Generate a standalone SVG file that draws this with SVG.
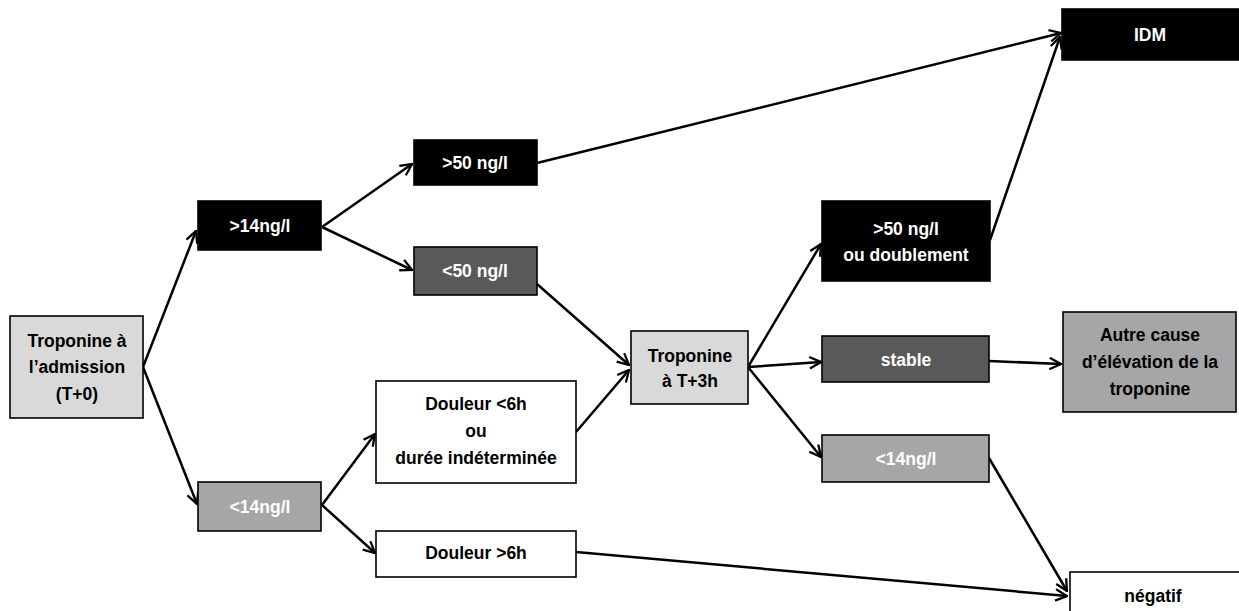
<svg xmlns="http://www.w3.org/2000/svg" width="1239" height="611" viewBox="0 0 1239 611">
  <style>
    .box { stroke: #000; stroke-width: 1.6; }
    .black { fill: #000; }
    .dark { fill: #595959; }
    .mid { fill: #a6a6a6; }
    .light { fill: #d9d9d9; }
    .white { fill: #fff; }
    text { font-family: "Liberation Sans", Arial, sans-serif; font-weight: bold; font-size: 17.5px; text-anchor: middle; }
    .wt { fill: #fff; }
    .bt { fill: #000; }
    .conn line { stroke: #000; stroke-width: 2.5; fill: none; marker-end: url(#arrow); }
  </style>
  <defs>
    <marker id="arrow" viewBox="0 0 12 12" refX="11" refY="6" markerWidth="5.5" markerHeight="5.5" orient="auto" markerUnits="strokeWidth">
      <path d="M1,1 L11,6 L1,11" fill="none" stroke="#000" stroke-width="2"/>
    </marker>
  </defs>
  <rect width="1239" height="611" fill="#fff"/>

  <g id="connectors" class="conn">
    <line x1="143" y1="367" x2="196" y2="231"/>
    <line x1="143" y1="367" x2="197" y2="504"/>
    <line x1="322" y1="227" x2="412" y2="164"/>
    <line x1="322" y1="227" x2="412" y2="270"/>
    <line x1="537" y1="163" x2="1061" y2="33"/>
    <line x1="537" y1="284" x2="629" y2="365"/>
    <line x1="576" y1="432" x2="629" y2="370"/>
    <line x1="322" y1="505" x2="375" y2="434"/>
    <line x1="322" y1="505" x2="375" y2="553"/>
    <line x1="576" y1="552" x2="1067" y2="596"/>
    <line x1="748" y1="367" x2="821" y2="244"/>
    <line x1="748" y1="367" x2="821" y2="362"/>
    <line x1="748" y1="367" x2="821" y2="457"/>
    <line x1="990" y1="240" x2="1060" y2="37"/>
    <line x1="989" y1="361" x2="1061" y2="364"/>
    <line x1="989" y1="458" x2="1067" y2="591"/>
  </g>

  <g id="admission">
    <rect class="box light" x="10" y="316" width="133" height="102"/>
    <text class="bt" x="77" y="347">Troponine à</text>
    <text class="bt" x="77" y="373">l’admission</text>
    <text class="bt" x="77" y="400">(T+0)</text>
  </g>

  <g id="sup14">
    <rect class="box black" x="198" y="201" width="123" height="49"/>
    <text class="wt" x="260" y="232">&gt;14ng/l</text>
  </g>

  <g id="sup50">
    <rect class="box black" x="414" y="140" width="123" height="45"/>
    <text class="wt" x="475" y="169">&gt;50 ng/l</text>
  </g>

  <g id="inf50">
    <rect class="box dark" x="414" y="247" width="123" height="48"/>
    <text class="wt" x="475" y="277">&lt;50 ng/l</text>
  </g>

  <g id="inf14">
    <rect class="box mid" x="198" y="482" width="123" height="49"/>
    <text class="wt" x="260" y="513">&lt;14ng/l</text>
  </g>

  <g id="douleur-moins-6h">
    <rect class="box white" x="376" y="381" width="200" height="102"/>
    <text class="bt" x="476" y="410">Douleur &lt;6h</text>
    <text class="bt" x="476" y="437">ou</text>
    <text class="bt" x="476" y="464">durée indéterminée</text>
  </g>

  <g id="douleur-plus-6h">
    <rect class="box white" x="376" y="531" width="200" height="46"/>
    <text class="bt" x="476" y="559">Douleur &gt;6h</text>
  </g>

  <g id="troponine-t3h">
    <rect class="box light" x="631" y="331" width="117" height="73"/>
    <text class="bt" x="690" y="362">Troponine</text>
    <text class="bt" x="690" y="387">à T+3h</text>
  </g>

  <g id="sup50-doublement">
    <rect class="box black" x="822" y="201" width="168" height="80"/>
    <text class="wt" x="906" y="235">&gt;50 ng/l</text>
    <text class="wt" x="906" y="261">ou doublement</text>
  </g>

  <g id="stable">
    <rect class="box dark" x="822" y="336" width="167" height="46"/>
    <text class="wt" x="906" y="366">stable</text>
  </g>

  <g id="inf14-t3h">
    <rect class="box mid" x="822" y="435" width="167" height="47"/>
    <text class="wt" x="906" y="465">&lt;14ng/l</text>
  </g>

  <g id="idm">
    <rect class="box black" x="1062" y="9" width="180" height="51"/>
    <text class="wt" x="1150" y="41">IDM</text>
  </g>

  <g id="autre-cause">
    <rect class="box mid" x="1063" y="312" width="173" height="100"/>
    <text class="bt" x="1150" y="341">Autre cause</text>
    <text class="bt" x="1150" y="368">d’élévation de la</text>
    <text class="bt" x="1150" y="395">troponine</text>
  </g>

  <g id="negatif">
    <rect class="box white" x="1070" y="572" width="175" height="45"/>
    <text class="bt" x="1153" y="602">négatif</text>
  </g>
</svg>
